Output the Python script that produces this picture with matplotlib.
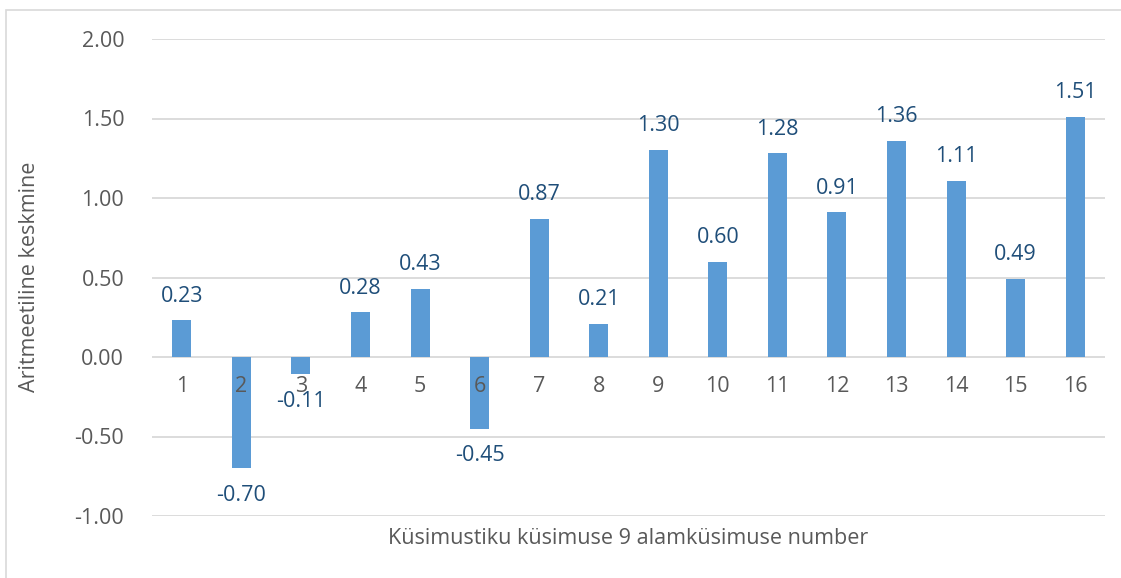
import matplotlib.pyplot as plt
from matplotlib.patches import Rectangle

# chart data
categories = [str(i) for i in range(1, 17)]
values = [0.23, -0.70, -0.11, 0.28, 0.43, -0.45, 0.87, 0.21,
          1.30, 0.60, 1.28, 0.91, 1.36, 1.11, 0.49, 1.51]
y_ticks = [-1.0, -0.5, 0.0, 0.5, 1.0, 1.5, 2.0]

x_title = "Küsimustiku küsimuse 9 alamküsimuse number"
y_title = "Aritmeetiline keskmine"

bar_color = "#5B9BD5"
label_color = "#1F4E79"
text_color = "#595959"
grid_color = "#D9D9D9"
fs = 15.5

plt.rcParams['font.family'] = ['Open Sans', 'DejaVu Sans']

fig = plt.figure(figsize=(11.21, 5.78), dpi=100)
ax = fig.add_axes([152 / 1121, 1 - 516 / 578, 953 / 1121, 477 / 578])

# outer frame of the chart area
fig.patches.append(Rectangle((6 / 1121, -0.05), 1.1, 1 - 10 / 578 + 0.05,
                             transform=fig.transFigure, fill=False,
                             edgecolor="#D9D9D9", linewidth=1.2))

xs = range(len(categories))
ax.bar(xs, values, width=0.32, color=bar_color, zorder=3)

ax.set_xlim(-0.5, len(categories) - 0.5)
ax.set_ylim(-1.0, 2.0)
ax.set_yticks(y_ticks)
ax.set_yticklabels([f"{v:.2f}" for v in y_ticks])
ax.tick_params(axis='y', length=0, pad=20, labelsize=fs, labelcolor=text_color)
ax.set_xticks([])
for s in ax.spines.values():
    s.set_visible(False)
ax.yaxis.grid(True, color=grid_color, linewidth=1.3, zorder=0)

# category labels sit just under the zero line
for x, c in zip(xs, categories):
    ax.annotate(c, xy=(x, 0), xytext=(0, -21), textcoords='offset points',
                ha='center', va='center', fontsize=fs, color=text_color)

# value labels
for x, v in zip(xs, values):
    off = 17.5 if v >= 0 else -19.5
    ax.annotate(f"{v:.2f}", xy=(x, v), xytext=(0, off), textcoords='offset points',
                ha='center', va='center', fontsize=fs, color=label_color)

fig.text(628 / 1121, 1 - 538 / 578, x_title, ha='center', va='center',
         fontsize=fs, color=text_color)
fig.text(30 / 1121, 1 - 277 / 578, y_title, ha='center', va='center',
         rotation=90, fontsize=fs, color=text_color)

fig.savefig("out.png", dpi=100)
